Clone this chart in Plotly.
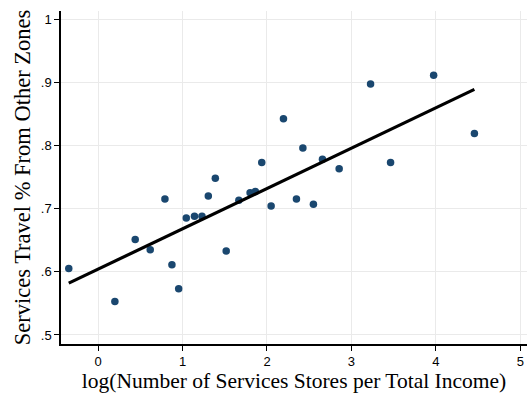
import numpy as np
import plotly.graph_objects as go

# Log services stores per total income (x) and share of services travel from other zones (y)
log_stores = [-0.348, 0.198, 0.439, 0.617, 0.791, 0.874, 0.954, 1.044, 1.141, 1.230,
              1.305, 1.388, 1.517, 1.667, 1.800, 1.862, 1.938, 2.049, 2.195, 2.349,
              2.425, 2.550, 2.657, 2.855, 3.227, 3.464, 3.974, 4.457]
travel_share = [0.605, 0.553, 0.651, 0.635, 0.715, 0.611, 0.573, 0.685, 0.688, 0.688,
                0.720, 0.748, 0.633, 0.713, 0.725, 0.727, 0.773, 0.704, 0.842, 0.715,
                0.796, 0.707, 0.778, 0.763, 0.897, 0.773, 0.911, 0.819]

x_ticks = [0, 1, 2, 3, 4, 5]
y_ticks = [0.5, 0.6, 0.7, 0.8, 0.9, 1.0]
y_tick_labels = [".5", ".6", ".7", ".8", ".9", "1"]

# Linear fit across the observed range
slope, intercept = np.polyfit(log_stores, travel_share, 1)
fit_x = np.array([min(log_stores), max(log_stores)])
fit_y = intercept + slope * fit_x

serif = "Liberation Serif, Times New Roman, serif"
sans = "Liberation Sans, Arial, sans-serif"

fig = go.Figure()
fig.add_trace(go.Scatter(
    x=log_stores, y=travel_share, mode="markers",
    marker=dict(color="#1a476f", size=7.5, line=dict(width=0)),
    showlegend=False, hoverinfo="skip"))
fig.add_trace(go.Scatter(
    x=fit_x, y=fit_y, mode="lines",
    line=dict(color="black", width=3.2),
    showlegend=False, hoverinfo="skip"))

fig.update_layout(
    width=527, height=394,
    margin=dict(l=61, r=0, t=11, b=50),
    paper_bgcolor="white", plot_bgcolor="white",
    font=dict(family=serif, color="black"),
    xaxis=dict(
        range=[-0.44, 5.08], tickvals=x_ticks, ticktext=[str(v) for v in x_ticks],
        showgrid=True, gridcolor="#eaeaea", gridwidth=1, zeroline=False,
        showline=True, linecolor="black", linewidth=1.5,
        ticks="outside", ticklen=5, tickcolor="black",
        tickfont=dict(family=sans, size=13),
        title=dict(text="log(Number of Services Stores per Total Income)",
                   font=dict(family=serif, size=21.5), standoff=2)),
    yaxis=dict(
        range=[0.4857, 1.0127], tickvals=y_ticks, ticktext=y_tick_labels,
        showgrid=True, gridcolor="#eaeaea", gridwidth=1, zeroline=False,
        showline=True, linecolor="black", linewidth=1.5,
        ticks="outside", ticklen=5, tickcolor="black",
        tickfont=dict(family=sans, size=13),
        title=dict(text="Services Travel % From Other Zones",
                   font=dict(family=serif, size=22.5), standoff=4)),
)

fig.write_html("out.html")
